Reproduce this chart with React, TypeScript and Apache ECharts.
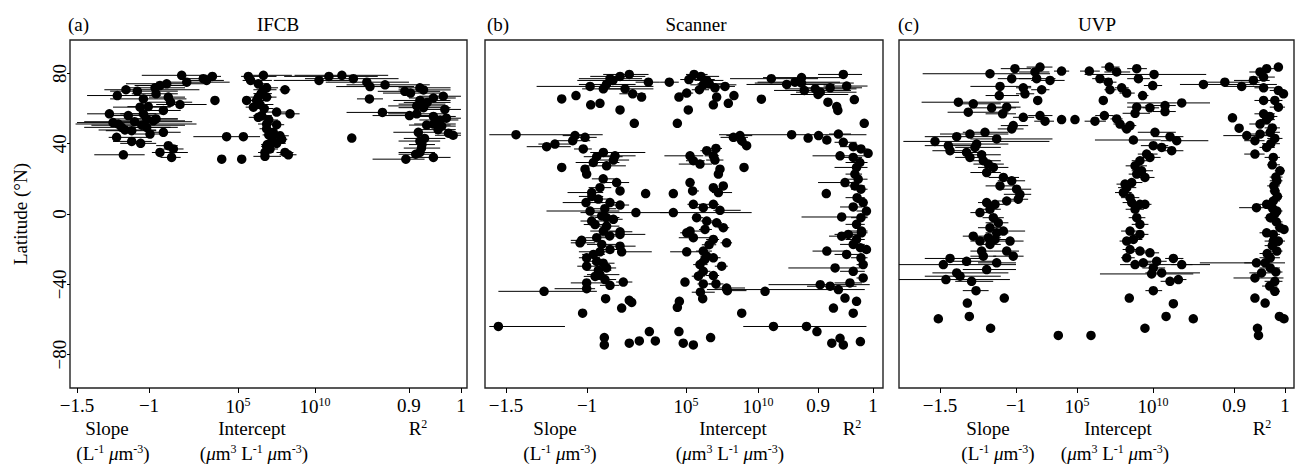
import React, { useEffect, useRef } from 'react';
import * as echarts from 'echarts';

const FONT = "'Liberation Serif', 'Times New Roman', serif";

// [value, latitude, errLow, errHigh]  (null = no error bar)
type Pt = [number, number, number | null, number | null];

const ifcbSlope: Pt[] = [
  [-0.773, 78.9, -1.05, -0.53], [-0.738, 75.0, -0.95, -0.44], [-0.623, 77.0, -0.75, -0.55],
  [-0.560, 78.3, -0.65, -0.50], [-0.600, 76.0, -0.75, -0.48], [-0.542, 64.6, null, null],
  [-1.160, 70.7, -1.31, -0.65], [-1.081, 69.9, -1.27, -0.80], [-1.220, 67.4, -1.43, -0.92],
  [-1.039, 65.5, -1.27, -0.74], [-0.958, 71.8, -1.15, -0.75], [-0.924, 73.1, -1.10, -0.72],
  [-0.877, 74.1, -1.16, -0.62], [-0.951, 68.4, -1.12, -0.80], [-0.866, 66.5, -1.00, -0.75],
  [-0.850, 63.6, -1.00, -0.70], [-0.785, 62.3, -0.95, -0.60], [-0.900, 58.9, -1.05, -0.78],
  [-1.062, 60.8, -1.25, -0.85], [-1.005, 61.1, -1.15, -0.85], [-1.039, 57.0, -1.20, -0.90],
  [-1.275, 57.0, -1.43, -0.95], [-1.144, 56.0, -1.30, -0.95], [-1.016, 54.1, -1.25, -0.80],
  [-0.951, 54.1, -1.15, -0.80], [-1.213, 51.2, -1.51, -0.67], [-1.190, 49.3, -1.45, -0.80],
  [-1.167, 47.8, -1.35, -0.95], [-1.120, 47.4, -1.30, -0.95], [-1.016, 49.3, -1.20, -0.85],
  [-1.225, 43.6, -1.28, -1.00], [-1.120, 41.3, -1.25, -0.98], [-1.058, 40.2, -1.20, -0.95],
  [-0.993, 45.5, -1.10, -0.90], [-0.900, 46.5, -1.00, -0.78], [-0.924, 35.0, -0.98, -0.73],
  [-0.866, 38.9, -0.95, -0.80], [-0.831, 37.0, -0.90, -0.76], [-0.843, 32.2, -0.92, -0.78],
  [-1.178, 33.7, -1.38, -1.03], [-0.495, 31.2, null, null], [-0.461, 44.0, -0.692, -0.229],
  [-1.10, 52.5, -1.45, -0.70], [-1.05, 50.5, -1.40, -0.75], [-0.97, 53.0, -1.20, -0.75],
  [-1.25, 52.0, -1.50, -1.00],
];

const ifcbInterceptLog10: Pt[] = [
  [5.67, 78.3, 5.2, 7.5], [6.65, 78.9, 5.8, 8.5], [5.82, 76.0, 5.3, 7.2], [6.32, 74.1, 5.8, 7.0],
  [6.86, 71.8, 6.2, 7.6], [6.65, 70.7, 6.0, 7.5], [6.32, 66.5, 5.8, 7.2], [6.21, 64.6, 5.6, 7.0],
  [5.56, 64.6, 5.3, 5.9], [6.00, 60.8, 5.5, 7.0], [6.43, 62.3, 5.9, 7.3], [6.86, 66.5, 6.3, 7.5],
  [7.51, 58.0, 6.8, 8.2], [8.05, 70.7, 7.7, 8.4], [8.38, 57.0, 7.6, 9.0], [6.54, 56.0, 6.0, 7.2],
  [6.32, 55.0, 5.7, 7.0], [6.86, 51.2, 6.3, 7.8], [7.51, 50.8, 7.0, 8.0], [6.86, 48.5, 6.4, 7.6],
  [7.29, 46.5, 6.8, 7.9], [7.73, 44.5, 7.2, 8.3], [7.84, 42.5, 7.3, 8.2], [7.19, 43.6, 6.8, 7.8],
  [7.51, 40.2, 7.0, 8.1], [6.86, 38.5, 6.5, 7.4], [7.08, 37.0, 6.7, 7.6], [6.75, 35.0, 6.3, 7.3],
  [8.05, 35.0, 7.5, 8.6], [8.27, 33.7, 7.7, 8.8], [6.75, 32.8, 6.0, 7.8], [5.35, 44.0, null, null],
  [5.24, 31.2, null, null], [6.50, 68.5, 6.0, 7.2], [6.70, 60.0, 6.2, 7.3], [7.00, 53.5, 6.5, 7.6],
  [7.30, 41.0, 6.9, 7.9], [7.00, 45.0, 6.6, 7.6], [6.90, 39.5, 6.5, 7.4],
];

const ifcbR2: Pt[] = [
  [0.727, 76.0, 0.64, 0.80], [0.746, 78.3, 0.66, 0.84], [0.771, 78.9, 0.68, 0.86],
  [0.793, 77.0, 0.70, 0.88], [0.819, 75.0, 0.74, 0.90], [0.825, 72.5, 0.76, 0.91],
  [0.854, 73.5, 0.78, 0.94], [0.824, 65.5, 0.80, 0.85], [0.849, 57.8, 0.78, 0.92],
  [0.790, 43.2, null, null], [0.892, 69.8, 0.84, 0.96], [0.903, 68.8, 0.85, 0.97],
  [0.921, 71.8, 0.88, 0.98], [0.928, 70.6, 0.88, 0.98], [0.947, 66.0, 0.90, 0.99],
  [0.921, 64.6, 0.87, 0.98], [0.915, 61.5, 0.86, 0.97], [0.928, 60.5, 0.88, 0.98],
  [0.901, 56.0, 0.83, 0.95], [0.915, 57.0, 0.86, 0.97], [0.969, 59.5, 0.93, 1.0],
  [0.966, 67.0, 0.92, 1.0], [0.947, 55.5, 0.91, 0.99], [0.960, 53.5, 0.92, 0.995],
  [0.934, 50.6, 0.90, 0.98], [0.947, 51.2, 0.91, 0.99], [0.972, 54.5, 0.94, 1.0],
  [0.963, 50.0, 0.93, 0.99], [0.956, 48.0, 0.92, 0.99], [0.976, 46.0, 0.95, 1.0],
  [0.985, 44.8, 0.95, 1.0], [0.918, 46.5, 0.87, 0.96], [0.921, 41.5, 0.88, 0.96],
  [0.924, 37.5, 0.89, 0.96], [0.921, 35.0, 0.88, 0.95], [0.913, 34.0, 0.88, 0.94],
  [0.894, 31.2, 0.83, 0.93], [0.947, 32.2, 0.90, 0.98], [0.925, 39.5, 0.90, 0.95],
  [0.930, 43.0, 0.89, 0.97], [0.925, 62.5, 0.88, 0.97], [0.935, 63.5, 0.89, 0.98],
];

const scannerSlope: Pt[] = [
  [-0.981, 72.6, -1.311, -0.59], [-0.858, 77.0, -1.05, -0.66], [-0.796, 78.3, -0.98, -0.64],
  [-0.739, 79.4, -0.90, -0.62], [-0.899, 71.2, -1.03, -0.74], [-0.765, 71.2, -0.90, -0.59],
  [-0.718, 68.4, -0.80, -0.64], [-0.663, 66.5, null, null], [-0.621, 75.0, -0.70, -0.55],
  [-1.156, 65.5, null, null], [-1.068, 67.4, null, null], [-0.977, 62.1, null, null],
  [-0.920, 63.0, null, null], [-0.796, 59.2, null, null], [-0.708, 51.6, null, null],
  [-0.84, 76.0, -1.06, -0.62], [-0.88, 73.7, -1.05, -0.70],
  [-1.438, 45.1, -1.603, -0.903], [-1.249, 38.3, -1.372, -1.10], [-1.198, 39.8, -1.30, -1.10],
  [-1.088, 41.7, -1.20, -0.98], [-1.074, 44.6, -1.15, -1.00], [-1.012, 43.6, -1.10, -0.94],
  [-1.023, 37.0, -1.08, -0.97], [-0.940, 32.6, -1.02, -0.78], [-0.899, 35.0, -0.98, -0.64],
  [-0.827, 33.1, -0.93, -0.70], [-0.961, 29.3, -1.07, -0.80], [-0.879, 27.4, -1.00, -0.76],
  [-0.837, 30.7, -0.92, -0.74], [-1.156, 26.5, null, null], [-1.012, 25.5, null, null],
  [-1.002, 22.7, null, null], [-0.817, 17.9, -0.90, -0.74], [-0.796, 13.1, null, null],
  [-0.971, 12.2, -1.12, -0.90], [-0.638, 11.6, null, null], [-1.006, 6.5, -1.15, -0.90],
  [-0.981, 1.7, -1.25, -0.80], [-0.858, 6.5, -0.95, -0.78], [-0.796, 5.1, -0.85, -0.74],
  [-0.971, -4.0, -1.04, -0.88], [-0.909, -1.1, -0.98, -0.84], [-0.879, -6.9, -0.95, -0.80],
  [-0.837, -3.0, -0.90, -0.78], [-0.796, -10.1, -0.86, -0.72], [-0.899, -9.7, -0.98, -0.82],
  [-1.033, -15.0, -1.10, -0.95], [-0.698, 0.8, -1.04, -0.50], [-0.796, -11.6, -0.92, -0.64],
  [-1.043, -16.4, -1.10, -0.95], [-0.909, -17.3, -1.00, -0.80], [-0.796, -18.3, -0.90, -0.70],
  [-0.920, -21.5, -1.05, -0.84], [-0.858, -20.2, -0.93, -0.80], [-0.786, -21.5, -0.81, -0.60],
  [-1.002, -24.9, -1.05, -0.92], [-0.940, -26.9, -1.00, -0.88], [-0.879, -30.7, -0.95, -0.82],
  [-1.002, -29.7, -1.06, -0.94], [-0.920, -34.5, -1.00, -0.80], [-0.889, -37.3, -0.95, -0.82],
  [-1.002, -39.2, -1.10, -0.90], [-0.858, -40.6, -0.92, -0.80], [-0.776, -38.7, -0.82, -0.72],
  [-1.002, -42.5, -1.20, -0.95], [-1.265, -44.0, -1.547, -0.939], [-0.885, -48.2, null, null],
  [-0.786, -53.5, null, null], [-0.739, -49.1, null, null], [-0.724, -50.3, null, null],
  [-1.027, -56.4, null, null], [-0.893, -70.3, null, null], [-0.893, -74.5, null, null],
  [-0.739, -73.5, null, null], [-0.677, -72.2, null, null], [-0.615, -66.9, null, null],
  [-0.578, -72.2, null, null], [-1.547, -64.0, -1.603, -1.136],
  [-0.93, 8.5, -1.0, -0.85], [-0.89, 3.0, -0.96, -0.82], [-0.95, -6.0, -1.02, -0.88],
  [-0.86, -12.5, -0.94, -0.78], [-0.92, 15.0, -0.99, -0.85], [-0.90, 20.0, -0.97, -0.83],
  [-0.97, 10.0, -1.05, -0.90], [-0.88, -2.0, -0.95, -0.80], [-0.94, -13.5, -1.01, -0.86],
  [-0.96, -23.0, -1.03, -0.89], [-0.90, -28.0, -0.97, -0.83], [-0.93, -32.0, -1.0, -0.85],
  [-0.95, -35.5, -1.02, -0.88],
];

const scannerInterceptLog10: Pt[] = [
  [3.84, 75.0, 3.2, 4.5], [5.56, 79.4, 5.0, 6.5], [6.04, 78.3, 5.3, 7.3], [6.44, 76.0, 5.6, 7.6],
  [6.62, 74.1, 5.8, 7.8], [7.01, 71.8, 6.3, 7.9], [7.71, 72.6, 7.0, 8.4], [4.51, 66.5, null, null],
  [5.05, 68.8, 4.6, 5.5], [5.93, 70.7, 5.4, 6.6], [7.13, 66.5, null, null], [6.90, 62.1, null, null],
  [7.94, 63.0, null, null], [8.33, 67.4, null, null], [5.16, 59.2, null, null], [4.40, 51.6, null, null],
  [6.2, 73.5, 5.3, 8.5], [5.2, 76.5, 4.6, 7.0],
  [8.29, 43.6, 7.4, 9.3], [8.75, 44.6, 7.8, 9.6], [9.21, 38.9, 8.8, 9.4], [8.87, 41.7, 8.3, 9.2],
  [5.28, 33.1, 3.5, 6.2], [5.51, 30.3, 5.0, 6.3], [6.44, 36.0, 6.0, 7.0], [7.08, 37.3, 6.7, 7.5],
  [6.90, 33.1, 6.3, 7.3], [5.97, 28.4, 4.5, 6.8], [7.01, 30.7, 6.4, 7.6], [9.03, 26.5, null, null],
  [7.36, 25.5, null, null], [7.25, 22.7, null, null], [5.28, 17.9, 5.0, 5.6], [5.46, 13.1, 5.2, 5.9],
  [4.12, 11.6, null, null], [6.90, 15.0, 6.6, 7.2], [7.25, 12.2, 6.8, 8.2], [7.59, 16.0, 7.3, 7.9],
  [5.51, 5.5, 5.1, 6.0], [6.20, 3.6, 5.7, 6.7], [6.90, 5.5, 6.4, 7.3], [7.36, 2.1, 6.9, 8.8],
  [4.12, 0.8, 3.2, 9.56], [5.74, -2.1, 5.4, 6.2], [6.44, -4.0, 6.0, 6.9], [7.13, -5.0, 6.7, 7.5],
  [7.59, -7.8, 7.2, 8.0], [5.28, -9.7, 4.8, 6.2], [6.32, -8.8, 5.9, 6.8], [6.90, -14.5, 6.4, 7.3],
  [5.05, -10.7, 4.6, 5.6], [5.51, -13.5, 4.5, 6.7], [7.82, -16.4, 7.4, 8.2], [5.05, -21.5, 3.9, 6.0],
  [6.20, -21.1, 5.7, 6.8], [6.44, -24.0, 6.0, 6.9], [6.90, -24.9, 6.4, 7.4], [5.97, -28.8, 5.5, 6.5],
  [7.48, -29.7, 7.0, 7.9], [6.20, -32.6, 5.8, 6.7], [5.86, -35.4, 5.4, 6.3], [6.20, -39.8, 5.8, 6.8],
  [7.08, -39.8, 6.6, 7.6], [4.93, -38.7, null, null], [7.82, -42.1, 7.0, 9.1], [7.87, -43.6, 7.5, 9.2],
  [4.54, -49.7, null, null], [4.40, -53.1, null, null], [6.16, -48.2, null, null], [8.87, -56.4, null, null],
  [4.51, -66.9, null, null], [4.81, -73.5, null, null], [5.51, -74.5, null, null], [6.71, -70.3, null, null],
  [10.49, -44.0, null, null], [6.6, -17.5, 6.1, 7.1], [6.3, -26.0, 5.9, 6.8], [6.9, -35.0, 6.4, 7.3],
  [6.0, -44.5, 5.4, 7.0],
];

const scannerR2: Pt[] = [
  [0.815, 77.0, 0.74, 0.90], [0.843, 73.7, 0.77, 0.93], [0.858, 75.0, 0.79, 0.94],
  [0.870, 77.6, 0.80, 0.95], [0.875, 70.3, 0.82, 0.96], [0.895, 71.2, 0.84, 0.97],
  [0.904, 69.3, 0.86, 0.97], [0.922, 71.8, 0.87, 0.98], [0.946, 79.4, 0.90, 0.98],
  [0.952, 72.8, 0.91, 0.99], [0.918, 63.6, null, null], [0.934, 61.1, null, null],
  [0.936, 58.9, null, null], [0.966, 65.1, null, null], [0.797, 65.3, null, null],
  [0.87, 74.5, 0.785, 0.965], [0.90, 68.0, 0.85, 0.955],
  [0.984, 51.6, null, null], [0.852, 45.1, 0.72, 0.988], [0.882, 43.2, null, null],
  [0.901, 44.6, null, null], [0.916, 42.1, null, null], [0.937, 45.5, 0.92, 0.96],
  [0.946, 40.8, 0.93, 0.97], [0.964, 38.3, 0.94, 0.985], [0.978, 37.0, 0.96, 0.99],
  [0.991, 34.5, null, null], [0.940, 33.1, 0.89, 0.99], [0.964, 32.2, 0.94, 0.98],
  [0.976, 29.3, 0.95, 0.99], [0.970, 26.5, 0.93, 0.99], [0.967, 22.7, 0.95, 0.98],
  [0.973, 19.8, 0.95, 0.99], [0.915, 11.6, null, null], [0.949, 17.9, 0.90, 0.97],
  [0.967, 16.0, 0.95, 0.985], [0.978, 14.1, 0.96, 0.99], [0.971, 9.3, 0.95, 0.985],
  [0.982, 6.5, 0.97, 0.99], [0.964, 4.0, 0.94, 0.98], [0.988, 1.7, 0.97, 0.995],
  [0.978, -2.1, 0.96, 0.99], [0.970, -5.9, 0.95, 0.985], [0.943, -1.7, 0.87, 0.99],
  [0.979, -9.7, 0.96, 0.99], [0.955, -11.6, 0.93, 0.98], [0.943, -12.6, 0.92, 0.97],
  [0.970, -14.5, 0.95, 0.985], [0.979, -10.7, 0.96, 0.99], [0.916, -21.1, 0.89, 0.95],
  [0.952, -23.0, 0.93, 0.975], [0.964, -17.3, 0.94, 0.985], [0.977, -19.2, 0.96, 0.99],
  [0.988, -20.2, 0.975, 0.995], [0.978, -24.9, 0.96, 0.99], [0.982, -28.8, 0.97, 0.99],
  [0.931, -30.7, 0.846, 0.976], [0.964, -32.6, 0.94, 0.985], [0.982, -36.4, 0.97, 0.99],
  [0.958, -39.2, 0.93, 0.98], [0.904, -40.2, 0.81, 0.994], [0.922, -41.1, 0.88, 0.97],
  [0.937, -43.0, 0.698, 0.985], [0.949, -47.8, null, null], [0.970, -49.7, null, null],
  [0.928, -53.5, null, null], [0.964, -56.4, null, null], [0.819, -64.0, 0.764, 0.988],
  [0.879, -64.0, null, null], [0.898, -66.9, null, null], [0.925, -73.5, null, null],
  [0.940, -70.7, null, null], [0.946, -74.5, null, null], [0.977, -72.6, null, null],
];

const uvpSlope: Pt[] = [
  [-1.171, 79.8, -1.614, -0.776], [-1.007, 82.7, -1.10, -0.90], [-0.842, 83.6, -0.93, -0.76],
  [-0.875, 80.8, -0.98, -0.78], [-0.700, 81.3, -0.75, -0.65], [-1.028, 77.0, -1.12, -0.90],
  [-0.864, 77.0, -0.98, -0.74], [-0.776, 76.0, -0.90, -0.68], [-0.831, 70.7, -0.90, -0.78],
  [-0.952, 71.8, -1.00, -0.90], [-1.105, 72.6, -1.30, -0.90], [-0.941, 68.4, -1.00, -0.88],
  [-1.110, 67.4, -1.20, -0.98], [-0.857, 64.6, null, null], [-1.379, 63.6, -1.621, -0.98],
  [-1.281, 62.7, -1.40, -1.10], [-1.314, 57.9, -1.45, -1.05], [-1.160, 60.4, -1.30, -1.00],
  [-1.061, 60.8, -1.15, -0.97], [-1.088, 57.0, -1.20, -1.00], [-0.952, 55.0, -1.02, -0.88],
  [-1.018, 50.3, -1.10, -0.92], [-1.028, 48.4, -1.12, -0.95], [-0.842, 56.0, -0.92, -0.76],
  [-0.809, 52.8, -0.88, -0.75], [-0.700, 53.7, null, null], [-0.612, 53.7, null, null],
  [-1.390, 44.0, -1.60, -1.15], [-1.303, 45.5, -1.50, -1.05], [-1.204, 46.5, -1.35, -1.05],
  [-1.127, 42.7, -1.30, -0.76], [-1.533, 41.3, -1.741, -0.78], [-1.445, 38.9, -1.60, -1.25],
  [-1.434, 36.0, -1.55, -1.30], [-1.259, 39.8, -1.45, -1.05], [-1.270, 37.9, -1.40, -1.10],
  [-1.325, 35.0, -1.45, -1.20], [-1.303, 32.2, -1.40, -1.20], [-1.226, 33.7, -1.35, -1.10],
  [-1.215, 30.3, -1.30, -1.10], [-1.182, 28.4, -1.28, -1.08], [-1.149, 26.5, -1.25, -1.05],
  [-1.193, 23.6, -1.30, -1.10], [-1.083, 20.8, -1.18, -0.98], [-1.028, 18.9, -1.12, -0.94],
  [-1.105, 16.0, -1.20, -1.00], [-0.996, 14.1, -1.10, -0.90], [-0.974, 11.2, -1.08, -0.90],
  [-0.985, 8.4, -1.05, -0.92], [-1.061, 7.4, -1.12, -1.00], [-1.193, 6.5, -1.25, -1.13],
  [-1.138, 5.5, -1.20, -1.08], [-1.171, 2.7, -1.25, -1.10], [-1.237, 0.8, -1.30, -1.17],
  [-1.149, -2.1, -1.22, -1.08], [-1.116, -5.0, -1.20, -1.05], [-1.171, -7.8, -1.25, -1.08],
  [-1.281, -12.6, -1.35, -1.20], [-1.083, -9.7, -1.15, -0.94], [-1.138, -14.5, -1.20, -1.05],
  [-1.237, -15.4, -1.30, -1.15], [-1.127, -10.7, -1.20, -1.05], [-1.039, -15.4, -1.15, -0.95],
  [-1.171, -17.3, -1.25, -1.10], [-1.061, -21.1, -1.15, -0.98], [-1.018, -24.0, -1.15, -0.95],
  [-1.226, -21.1, -1.30, -1.15], [-1.215, -24.0, -1.30, -1.13], [-1.182, -13.5, -1.25, -1.10],
  [-1.434, -25.3, -1.60, -1.20], [-1.478, -28.8, -1.77, -1.00], [-1.325, -26.9, -1.45, -1.10],
  [-1.127, -27.8, -1.25, -1.00], [-1.193, -31.6, -1.35, -1.00], [-1.390, -33.5, -1.55, -1.05],
  [-1.368, -35.4, -1.60, -1.10], [-1.292, -38.3, -1.40, -1.15], [-1.461, -37.3, -1.77, -1.04],
  [-1.263, -43.6, -1.35, -1.18], [-1.077, -47.8, null, null], [-1.320, -50.7, null, null],
  [-1.307, -58.3, null, null], [-1.511, -59.6, null, null], [-1.167, -65.0, null, null],
];

const uvpInterceptLog10: Pt[] = [
  [5.81, 81.3, 5.2, 6.5], [7.13, 83.6, 6.6, 7.8], [7.61, 80.8, 6.8, 8.5], [8.93, 82.7, 8.3, 9.6],
  [9.04, 77.0, 8.3, 9.8], [10.07, 79.4, 5.5, 13.5], [6.51, 77.0, 6.0, 7.3], [7.06, 75.0, 6.3, 7.6],
  [7.17, 70.7, 6.8, 7.6], [7.94, 71.8, 7.5, 8.4], [8.27, 68.8, 7.8, 8.8], [9.32, 67.4, 9.0, 9.7],
  [9.98, 73.1, 9.4, 10.6], [11.89, 63.2, 8.3, 13.75], [10.79, 61.7, 9.5, 11.5], [8.93, 60.8, 8.3, 9.6],
  [9.80, 60.4, 9.3, 10.4], [8.82, 57.3, 8.0, 9.8], [10.79, 58.3, 10.0, 11.5], [6.73, 64.6, null, null],
  [6.18, 52.8, 5.5, 6.9], [6.80, 56.0, 6.2, 7.4], [7.61, 54.1, 7.2, 8.0], [7.83, 51.2, 7.4, 8.3],
  [8.27, 48.4, 7.9, 8.7], [8.49, 50.3, 8.1, 8.9], [10.13, 46.5, 9.0, 11.5], [11.12, 44.0, 10.0, 12.0],
  [11.56, 41.7, 10.5, 13.64], [8.71, 42.1, 6.18, 10.5], [10.02, 38.9, 9.2, 11.0], [10.57, 37.9, 9.8, 11.3],
  [11.23, 36.0, 10.5, 12.0], [9.58, 34.1, 9.0, 10.3], [9.80, 32.2, 9.2, 10.5], [9.14, 30.3, 8.6, 9.8],
  [8.82, 27.4, 8.2, 9.6], [9.25, 24.6, 8.6, 10.0], [9.47, 20.8, 8.9, 10.1], [8.93, 22.7, 8.4, 9.5],
  [8.60, 17.9, 7.9, 9.3], [8.16, 17.0, 7.6, 8.8], [8.27, 15.0, 7.7, 8.9], [8.05, 12.2, 7.5, 8.6],
  [8.49, 9.3, 7.9, 9.1], [8.60, 6.5, 8.0, 9.3], [9.14, 5.5, 8.6, 9.7], [8.82, 2.7, 8.2, 9.4],
  [9.47, 5.5, 9.0, 9.9], [8.93, -2.1, 8.4, 9.5], [9.14, -5.9, 8.6, 9.7], [8.49, -9.7, 7.9, 9.1],
  [9.14, -11.6, 8.6, 9.7], [8.71, -14.5, 8.2, 9.3], [8.27, -15.4, 7.8, 8.9], [8.49, -20.2, 8.0, 9.1],
  [9.14, -21.1, 8.6, 9.8], [9.80, -22.1, 9.2, 10.4], [8.27, -24.9, 7.9, 8.8], [8.82, -28.8, 7.83, 13.75],
  [9.36, -27.8, 8.9, 9.9], [10.02, -30.7, 9.3, 10.8], [10.24, -26.9, 9.6, 10.9], [11.34, -25.3, 10.8, 12.0],
  [11.89, -28.8, 11.2, 12.6], [10.57, -33.5, 9.5, 13.09], [11.12, -38.3, 10.5, 11.7], [11.67, -37.3, 11.0, 12.2],
  [9.91, -34.1, 6.51, 12.65], [10.02, -43.6, 9.5, 10.6], [8.44, -47.8, null, null], [11.34, -51.0, null, null],
  [10.86, -58.3, null, null], [12.65, -59.6, null, null], [9.47, -65.0, null, null], [3.77, -69.1, null, null],
  [5.92, -69.1, null, null],
];

const uvpR2: Pt[] = [
  [0.840, 73.7, 0.794, 0.984], [0.882, 75.0, 0.84, 0.95], [0.915, 72.6, 0.88, 0.96],
  [0.938, 76.0, 0.90, 0.97], [0.958, 77.9, 0.93, 0.98], [0.951, 80.8, 0.93, 0.97],
  [0.964, 82.7, 0.95, 0.98], [0.987, 83.6, null, null], [0.958, 71.8, 0.94, 0.98],
  [0.987, 70.3, 0.97, 1.0], [0.997, 68.4, 0.98, 1.0], [0.980, 64.6, 0.96, 0.995],
  [0.958, 64.6, 0.94, 0.98], [0.897, 54.7, null, null], [0.910, 48.8, null, null],
  [0.925, 44.6, 0.879, 0.98], [0.951, 45.5, 0.93, 0.97], [0.941, 41.7, 0.92, 0.96],
  [0.971, 46.5, 0.95, 0.99], [0.987, 60.8, 0.97, 1.0], [0.958, 57.0, 0.94, 0.98],
  [0.964, 53.7, 0.95, 0.98], [0.951, 51.2, 0.93, 0.97], [0.941, 34.1, 0.92, 0.96],
  [0.964, 37.9, 0.95, 0.98], [0.977, 32.2, 0.96, 0.99], [0.990, 24.6, 0.98, 1.0],
  [0.984, 18.9, 0.97, 0.995], [0.980, 13.1, 0.97, 0.99], [0.977, 7.4, 0.96, 0.99],
  [0.944, 3.6, 0.91, 0.97], [0.964, 5.5, 0.95, 0.98], [0.984, 1.7, 0.97, 0.995],
  [0.971, -2.1, 0.96, 0.985], [0.990, -7.8, 0.98, 1.0], [0.998, -8.8, null, null],
  [0.977, -11.6, 0.96, 0.99], [0.987, -15.4, 0.97, 1.0],
  [0.975, 28.0, 0.965, 0.99], [0.982, 21.0, 0.97, 0.995], [0.978, 16.0, 0.965, 0.99],
  [0.985, 10.0, 0.975, 0.995], [0.972, 40.0, 0.955, 0.99], [0.980, 43.0, 0.965, 0.995],
  [0.975, 49.0, 0.96, 0.99], [0.970, 55.5, 0.955, 0.985], [0.983, -4.5, 0.97, 0.995],
  [0.980, 0.0, 0.97, 0.99], [0.976, 3.0, 0.965, 0.99],
  [0.964, -10.7, 0.95, 0.98], [0.977, -15.4, 0.96, 0.99], [0.984, -21.1, 0.97, 0.995],
  [0.971, -24.9, 0.95, 0.99], [0.961, -27.8, 0.833, 1.0], [0.944, -27.8, 0.92, 0.97],
  [0.971, -30.7, 0.95, 0.99], [0.954, -33.5, 0.93, 0.98], [0.941, -36.4, 0.899, 0.997],
  [0.980, -38.3, 0.96, 0.995], [0.980, -44.0, 0.97, 0.99], [0.941, -47.8, null, null],
  [0.961, -50.7, null, null], [0.989, -58.3, null, null], [0.998, -59.6, null, null],
  [0.946, -65.0, null, null], [0.948, -69.1, null, null],
  [0.975, -18.0, 0.96, 0.99], [0.965, -22.5, 0.95, 0.98], [0.982, -33.0, 0.97, 0.995],
  [0.970, -41.0, 0.955, 0.985],
];

const slopeTicks = [-1.5, -1];
const interceptTicks = [5, 10];
const r2Ticks = [0.9, 1];
const latTicks = [-80, -40, 0, 40, 80];
const panelLabels = ['(a)', '(b)', '(c)'];
const panelTitles = ['IFCB', 'Scanner', 'UVP'];
const axisTitles = ['Slope', '{n|(L}{s|-1}{n| }{i|μ}{n|m}{s|-3}{n|)}', 'Intercept',
  '{n|(}{i|μ}{n|m}{s|3}{n| L}{s|-1}{n| }{i|μ}{n|m}{s|-3}{n|)}', '{n|R}{s|2}'];

const DATA: Pt[][][] = [
  [ifcbSlope, ifcbInterceptLog10, ifcbR2],
  [scannerSlope, scannerInterceptLog10, scannerR2],
  [uvpSlope, uvpInterceptLog10, uvpR2],
];

// layout (pixel geometry and axis extents of each panel)
const LAYOUT = [
  { left: 70, width: 397, ext: [[-1.5486, 1.2083], [-5.909, 19.87], [0.2481, 1.0116]], labelX: 68, titleX: 278, ax: [107, 113, 252, 254, 418] },
  { left: 485, width: 398, ext: [[-1.6296, 0.8272], [-8.958, 18.681], [0.2945, 1.0181]], labelX: 487, titleX: 696, ax: [555, 560, 733, 730, 852] },
  { left: 899, width: 395, ext: [[-1.7697, 0.829], [-6.711, 19.276], [0.2431, 1.0176]], labelX: 898, titleX: 1097, ax: [988, 998, 1118, 1115, 1262] },
];
const TOP = 40;
const HEIGHT = 348;

const minus = (v: number) => (v < 0 ? '\u2212' + Math.abs(v) : String(v));

const richGraphic = {
  n: { fontSize: 19, fontFamily: FONT, fill: '#000', lineHeight: 20, verticalAlign: 'bottom' },
  i: { fontSize: 19, fontFamily: FONT, fontStyle: 'italic', fill: '#000', lineHeight: 20, verticalAlign: 'bottom' },
  s: { fontSize: 12, fontFamily: FONT, fill: '#000', lineHeight: 12, verticalAlign: 'top' },
};

function buildOption() {
  const grids: any[] = [];
  const xAxes: any[] = [];
  const yAxes: any[] = [];
  const series: any[] = [];
  const graphic: any[] = [];
  const tickSets = [slopeTicks, interceptTicks, r2Ticks];
  const fmts = [
    (v: number) => minus(v),
    (v: number) => `{b|10}{s|${v}}`,
    (v: number) => String(v),
  ];
  LAYOUT.forEach((L, p) => {
    grids.push({ left: L.left, top: TOP, width: L.width, height: HEIGHT, show: true, borderColor: '#222', borderWidth: 1.4, backgroundColor: 'transparent' });
    yAxes.push({
      type: 'value', gridIndex: p, min: -99, max: 99, position: 'left',
      axisLine: { show: false, onZero: false }, splitLine: { show: false },
      axisTick: { show: p === 0, customValues: latTicks, length: 3, lineStyle: { color: '#000', width: 1 } },
      axisLabel: { show: p === 0, customValues: latTicks, rotate: 90, margin: 1, formatter: minus, fontSize: 19, fontFamily: FONT, color: '#000' },
      name: p === 0 ? 'Latitude (°N)' : '', nameLocation: 'middle', nameGap: 40, nameRotate: 90,
      nameTextStyle: { fontSize: 19, fontFamily: FONT, color: '#000' },
    });
    for (let k = 0; k < 3; k++) {
      xAxes.push({
        type: 'value', gridIndex: p, min: L.ext[k][0], max: L.ext[k][1], position: 'bottom', offset: 0,
        axisLine: { show: false, onZero: false }, splitLine: { show: false },
        axisTick: { show: true, customValues: tickSets[k], length: 5, lineStyle: { color: '#000', width: 1 } },
        axisLabel: {
          show: true, customValues: tickSets[k], formatter: fmts[k], margin: 8,
          fontSize: 19, fontFamily: FONT, color: '#000',
          rich: {
            b: { fontSize: 19, fontFamily: FONT, color: '#000', lineHeight: 20, verticalAlign: 'bottom' },
            s: { fontSize: 12, fontFamily: FONT, color: '#000', lineHeight: 12, verticalAlign: 'top' },
          },
        },
      });
      const xi = p * 3 + k;
      const pts = DATA[p][k];
      series.push({
        type: 'custom', xAxisIndex: xi, yAxisIndex: p, silent: true, z: 2, clip: false,
        data: pts.filter((d) => d[2] !== null && d[3] !== null).map((d) => [d[0], d[1], d[2], d[3]]),
        encode: { x: 0, y: 1 },
        renderItem: (_params: any, api: any) => {
          const lat = api.value(1);
          const a = api.coord([api.value(2), lat]);
          const b = api.coord([api.value(3), lat]);
          return { type: 'line', shape: { x1: a[0], y1: a[1], x2: b[0], y2: b[1] }, style: { stroke: '#000', lineWidth: 1 } };
        },
      });
      series.push({
        type: 'scatter', xAxisIndex: xi, yAxisIndex: p, silent: true, z: 3,
        symbol: 'circle', symbolSize: 9.5, itemStyle: { color: '#000', opacity: 1 },
        data: pts.map((d) => [d[0], d[1]]),
      });
    }
    graphic.push({ type: 'text', x: L.labelX, y: 24, style: { text: panelLabels[p], font: `19px ${FONT}`, fill: '#000', align: 'left', verticalAlign: 'middle', textAlign: 'left', textVerticalAlign: 'middle' } });
    graphic.push({ type: 'text', x: L.titleX, y: 24, style: { text: panelTitles[p], font: `19px ${FONT}`, fill: '#000', align: 'center', verticalAlign: 'middle', textAlign: 'center', textVerticalAlign: 'middle' } });
    const ys = [428, 453, 428, 453, 428];
    axisTitles.forEach((t, j) => {
      graphic.push({
        type: 'text', x: L.ax[j], y: ys[j],
        style: { text: t.indexOf('{') >= 0 ? t : `{n|${t}}`, rich: richGraphic, font: `19px ${FONT}`, fill: '#000', align: 'center', verticalAlign: 'middle', textAlign: 'center', textVerticalAlign: 'middle' },
      });
    });
  });
  return {
    animation: false,
    backgroundColor: '#fff',
    textStyle: { fontFamily: FONT },
    grid: grids, xAxis: xAxes, yAxis: yAxes, series, graphic,
  };
}

export default function App() {
  const ref = useRef<HTMLDivElement>(null);
  useEffect(() => {
    document.body.style.margin = '0';
    if (!ref.current) return;
    const chart = echarts.init(ref.current, null, { renderer: 'svg' });
    chart.setOption(buildOption() as any);
    return () => chart.dispose();
  }, []);
  return <div ref={ref} style={{ position: 'fixed', left: 0, top: 0, width: 1296, height: 466 }} />;
}
